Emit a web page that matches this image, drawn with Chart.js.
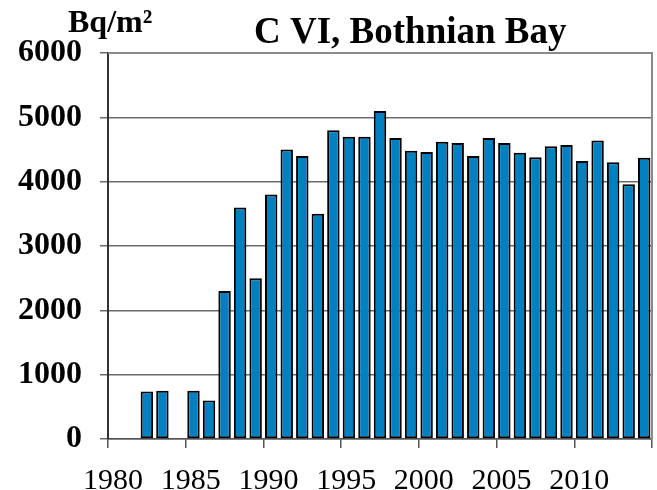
<!DOCTYPE html>
<html><head><meta charset="utf-8">
<script src="https://cdn.jsdelivr.net/npm/chart.js@4"></script>
<style>html,body{margin:0;padding:0;background:#fff}#wrap{width:657px;height:490px}</style>
</head><body><div id="wrap"><canvas id="c" width="657" height="490"></canvas></div>
<script>
const years = [1980,1981,1982,1983,1984,1985,1986,1987,1988,1989,1990,1991,1992,1993,1994,1995,1996,1997,1998,1999,2000,2001,2002,2003,2004,2005,2006,2007,2008,2009,2010,2011,2012,2013,2014];
const values = [null,null,740,750,null,750,600,2300,3600,2500,3800,4500,4400,3500,4800,4700,4700,5100,4680,4480,4460,4620,4600,4400,4680,4600,4450,4380,4550,4570,4320,4640,4300,3960,4370];
const xTickYears = [1980,1985,1990,1995,2000,2005,2010,2015];
const xTickLabels = ['1980','1985','1990','1995','2000','2005','2010',''];
const yTicks = [0,1000,2000,3000,4000,5000,6000];
const titleText = 'C VI, Bothnian Bay';
const unitText = 'Bq/m\u00B2';

const serif = "'Liberation Serif','Times New Roman',serif";

const decor = {
  id: 'decor',
  afterDraw(chart) {
    const ctx = chart.ctx, a = chart.chartArea;
    ctx.save();
    ctx.strokeStyle = '#8a8a8a';
    ctx.lineWidth = 2;
    ctx.beginPath();
    ctx.moveTo(a.left, a.top);
    ctx.lineTo(a.right, a.top);
    ctx.lineTo(a.right, a.bottom);
    ctx.stroke();
    ctx.fillStyle = '#000';
    ctx.textBaseline = 'alphabetic';
    ctx.textAlign = 'left';
    ctx.font = "bold 37px " + serif;
    ctx.fillText(titleText, 254, 43);
    ctx.font = "bold 32px " + serif;
    ctx.fillText(unitText, 68, 32);
    ctx.restore();
  }
};

new Chart(document.getElementById('c'), {
  type: 'bar',
  data: {
    labels: years.map(String),
    datasets: [{
      data: values,
      backgroundColor: '#0080c0',
      borderColor: '#000',
      borderWidth: 2,
      borderSkipped: false,
      barPercentage: 0.8,
      categoryPercentage: 1.0,
      xAxisID: 'x',
      yAxisID: 'y'
    }]
  },
  options: {
    responsive: false,
    animation: false,
    devicePixelRatio: 1,
    layout: { padding: { top: 53, right: 5, left: 0, bottom: 0 } },
    plugins: { legend: { display: false }, tooltip: { enabled: false }, title: { display: false } },
    scales: {
      x: { type: 'category', display: false, offset: true },
      xt: {
        type: 'linear', position: 'bottom', min: 1980, max: 2015,
        offset: false,
        afterBuildTicks: s => { s.ticks = xTickYears.map(v => ({ value: v })); },
        ticks: {
          callback: (v) => xTickLabels[xTickYears.indexOf(v)] ?? '',
          font: { family: serif, size: 30 }, color: '#000',
          maxRotation: 0, autoSkip: false, labelOffset: 5, padding: 15
        },
        grid: { drawOnChartArea: false, offset: false, tickLength: 9, color: '#555', lineWidth: 1.5 },
        border: { color: '#555', width: 1.5 },
        afterFit: s => { s.height = 51; s.paddingLeft = 0; s.paddingRight = 0; }
      },
      y: {
        min: 0, max: 6000,
        afterBuildTicks: s => { s.ticks = yTicks.map(v => ({ value: v })); },
        ticks: {
          callback: v => String(v),
          font: { family: serif, size: 32, weight: 'bold' }, color: '#000', padding: 18
        },
        grid: { color: '#6a6a6a', lineWidth: 1.5, tickLength: 8 },
        border: { color: '#333', width: 2 },
        afterFit: s => { s.width = 108; s.paddingTop = 0; s.paddingBottom = 0; }
      }
    }
  },
  plugins: [decor]
});
</script>
</body></html>
